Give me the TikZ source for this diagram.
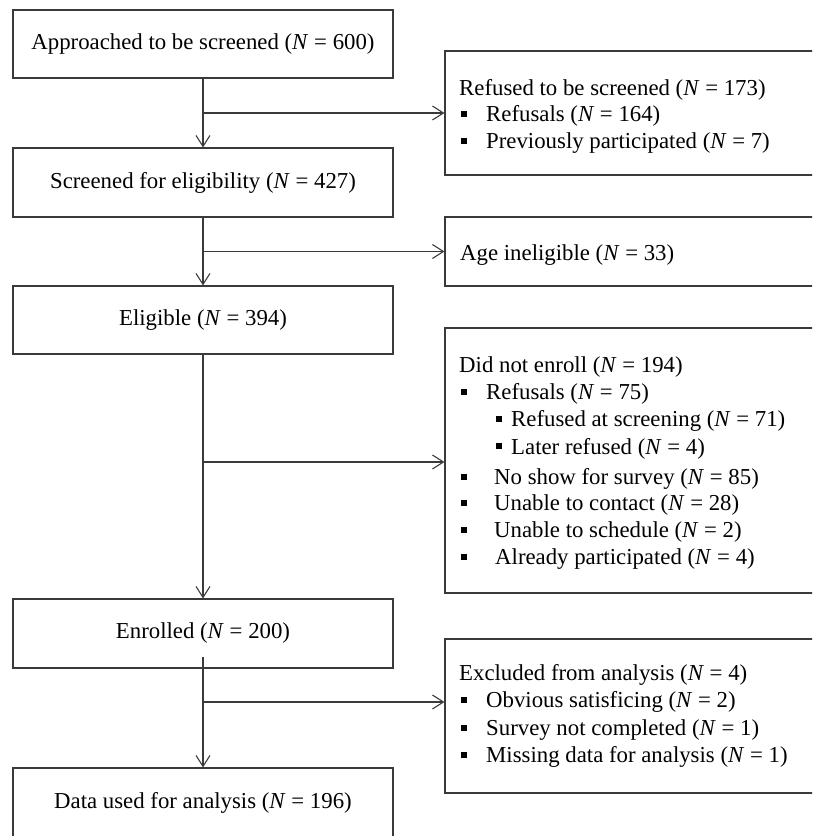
\documentclass[tikz,border=0pt]{standalone}
\usepackage{fontspec}
\setmainfont{Liberation Serif}
\usetikzlibrary{arrows.meta}
\definecolor{linec}{HTML}{3A3A3A}
\newcommand{\NN}{\textit{N}}
\begin{document}
\begin{tikzpicture}[x=1pt,y=-1pt,
  every node/.style={font=\fontsize{22.8}{27}\selectfont},
  box/.style={draw=linec, line width=1.1pt, inner sep=0pt, align=center},
  lbox/.style={box, minimum width=380pt, minimum height=68pt},
  rbox/.style={box, minimum width=385pt},
  lbl/.style={anchor=base west, inner sep=0pt},
  sq/.style={fill=black, inner sep=0pt, minimum size=6pt, anchor=south west},
  arr/.style={draw=linec, line width=1.1pt, -{Straight Barb[length=11pt,width=14pt,line width=1.1pt]}}
]
\useasboundingbox (0,0) rectangle (812,836);
\clip (0,0) rectangle (812,836);

% left column
\node[lbox] (a1) at (203,44) {Approached to be screened (\NN{} = 600)};
\node[lbox, minimum height=69pt] (a2) at (203,182.5) {Screened for eligibility (\NN{} = 427)};
\node[lbox] (a3) at (203,320) {Eligible (\NN{} = 394)};
\node[lbox, minimum height=69pt] (a4) at (203,633.5) {Enrolled (\NN{} = 200)};
\node[lbox, minimum height=69pt] (a5) at (203,802.5) {Data used for analysis (\NN{} = 196)};

% right boxes
\node[rbox, minimum height=124pt] (r1) at (637.5,113) {};
\node[rbox, minimum height=69pt] (r2) at (637.5,251.5) {};
\node[rbox, minimum height=265pt] (r3) at (637.5,460.5) {};
\node[rbox, minimum height=154pt] (r4) at (637.5,716) {};

% right box 1
\node[lbl] (t10) at (459,95) {Refused to be screened (\NN{} = 173)};
\node[sq] (q11) at (461,117.5) {};
\node[lbl] (t11) at (486,121.5) {Refusals (\NN{} = 164)};
\node[sq] (q12) at (461,144) {};
\node[lbl] (t12) at (486,148) {Previously participated (\NN{} = 7)};

% right box 2
\node[lbl] (t20) at (460,260) {Age ineligible (\NN{} = 33)};

% right box 3
\node[lbl] (t30) at (459,372) {Did not enroll (\NN{} = 194)};
\node[sq] (q31) at (461,395) {};
\node[lbl] (t31) at (486,399) {Refusals (\NN{} = 75)};
\node[sq] (q32) at (496,422) {};
\node[lbl] (t32) at (511,426.5) {Refused at screening (\NN{} = 71)};
\node[sq] (q33) at (496,449.5) {};
\node[lbl] (t33) at (511,454) {Later refused (\NN{} = 4)};
\node[sq] (q34) at (461,480) {};
\node[lbl] (t34) at (494,484) {No show for survey (\NN{} = 85)};
\node[sq] (q35) at (461,506) {};
\node[lbl] (t35) at (494,510) {Unable to contact (\NN{} = 28)};
\node[sq] (q36) at (461,533) {};
\node[lbl] (t36) at (494,537) {Unable to schedule (\NN{} = 2)};
\node[sq] (q37) at (461,560) {};
\node[lbl] (t37) at (495,564) {Already participated (\NN{} = 4)};

% right box 4
\node[lbl] (t40) at (459,680) {Excluded from analysis (\NN{} = 4)};
\node[sq] (q41) at (461,703) {};
\node[lbl] (t41) at (486,707) {Obvious satisficing (\NN{} = 2)};
\node[sq] (q42) at (461,731) {};
\node[lbl] (t42) at (486,735) {Survey not completed (\NN{} = 1)};
\node[sq] (q43) at (461,758) {};
\node[lbl] (t43) at (486,762) {Missing data for analysis (\NN{} = 1)};

% connectors
\draw[arr] (a1) -- (a2);
\draw[arr] (a1.south |- r1.west) -- (r1.west);
\draw[arr] (a2) -- (a3);
\draw[arr] (a2.south |- r2.west) -- (r2.west);
\draw[arr] (a3) -- (a4);
\coordinate (j3) at (203,462);
\draw[arr] (j3) -- (j3 -| r3.west);
\coordinate (s4) at (203,657);
\draw[arr] (s4) -- (a5.north);
\coordinate (j4) at (203,702);
\draw[arr] (j4) -- (j4 -| r4.west);
\end{tikzpicture}
\end{document}
